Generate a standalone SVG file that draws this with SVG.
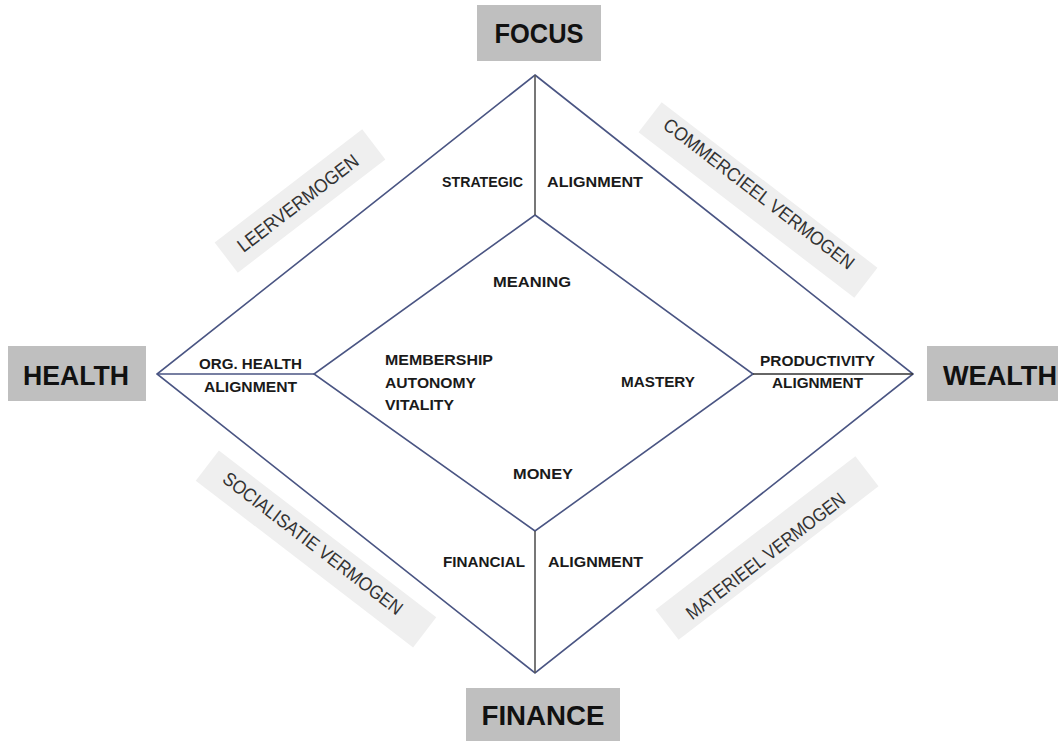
<svg xmlns="http://www.w3.org/2000/svg" width="1064" height="741" viewBox="0 0 1064 741">
<style>
.box{fill:#bfbfbf}
.big{font-family:"Liberation Sans",Arial,sans-serif;font-weight:bold;font-size:28px;fill:#111;text-anchor:middle}
.band{fill:#efefef}
.rot{font-family:"Liberation Sans",Arial,sans-serif;font-size:19px;fill:#333;text-anchor:middle}
.lbl{font-family:"Liberation Sans",Arial,sans-serif;font-weight:bold;font-size:15.5px;fill:#1a1a1a}
.ln{stroke:#4a5583;stroke-width:1.6;fill:none}
</style>
<rect width="1064" height="741" fill="#fff"/>

<g id="connectors">
  <polygon class="ln" points="535,75 913,374 535,673 157,374"/>
  <polygon class="ln" points="535,215 753,374 535,531 314,374"/>
  <line class="ln" x1="535" y1="75" x2="535" y2="215" style="stroke:#555"/>
  <line class="ln" x1="535" y1="531" x2="535" y2="673" style="stroke:#555"/>
  <line class="ln" x1="157" y1="374" x2="314" y2="374"/>
  <line class="ln" x1="753" y1="374" x2="913" y2="374" style="stroke:#333"/>
</g>

<g id="focus">
  <rect class="box" x="477" y="5" width="124" height="56"/>
  <text class="big" x="539" y="43" textLength="89" lengthAdjust="spacingAndGlyphs">FOCUS</text>
</g>
<g id="health">
  <rect class="box" x="8" y="346" width="138" height="55"/>
  <text class="big" x="76" y="385" textLength="106" lengthAdjust="spacingAndGlyphs">HEALTH</text>
</g>
<g id="wealth">
  <rect class="box" x="927" y="346" width="131" height="55"/>
  <text class="big" x="1000" y="385" textLength="114" lengthAdjust="spacingAndGlyphs">WEALTH</text>
</g>
<g id="finance">
  <rect class="box" x="466" y="688" width="154" height="53"/>
  <text class="big" x="543" y="725" textLength="123" lengthAdjust="spacingAndGlyphs">FINANCE</text>
</g>

<g id="leervermogen" transform="translate(300,201) rotate(-37.5)">
  <rect class="band" x="-93" y="-19" width="186" height="38"/>
  <text class="rot" x="-3" y="7" textLength="147" lengthAdjust="spacingAndGlyphs">LEERVERMOGEN</text>
</g>
<g id="commercieel" transform="translate(758,200) rotate(37.5)">
  <rect class="band" x="-136" y="-19" width="272" height="38"/>
  <text class="rot" x="-3" y="1" textLength="235" lengthAdjust="spacingAndGlyphs">COMMERCIEEL VERMOGEN</text>
</g>
<g id="socialisatie" transform="translate(316,549) rotate(37.5)">
  <rect class="band" x="-137" y="-19" width="274" height="38"/>
  <text class="rot" x="-6" y="4" textLength="221" lengthAdjust="spacingAndGlyphs">SOCIALISATIE VERMOGEN</text>
</g>
<g id="materieel" transform="translate(767,548) rotate(-37.5)">
  <rect class="band" x="-126" y="-19" width="252" height="38"/>
  <text class="rot" x="-6" y="12" textLength="195" lengthAdjust="spacingAndGlyphs">MATERIEEL VERMOGEN</text>
</g>

<g id="strategic-alignment">
  <text class="lbl" x="442" y="187" textLength="81" lengthAdjust="spacingAndGlyphs">STRATEGIC</text>
  <text class="lbl" x="547" y="187" textLength="96" lengthAdjust="spacingAndGlyphs">ALIGNMENT</text>
</g>
<g id="financial-alignment">
  <text class="lbl" x="443" y="567" textLength="82" lengthAdjust="spacingAndGlyphs">FINANCIAL</text>
  <text class="lbl" x="548" y="567" textLength="95" lengthAdjust="spacingAndGlyphs">ALIGNMENT</text>
</g>
<g id="org-health-alignment">
  <text class="lbl" x="199" y="369" textLength="103" lengthAdjust="spacingAndGlyphs">ORG. HEALTH</text>
  <text class="lbl" x="204" y="392" textLength="93" lengthAdjust="spacingAndGlyphs">ALIGNMENT</text>
</g>
<g id="productivity-alignment">
  <text class="lbl" x="760" y="366" textLength="115" lengthAdjust="spacingAndGlyphs">PRODUCTIVITY</text>
  <text class="lbl" x="772" y="388" textLength="91" lengthAdjust="spacingAndGlyphs">ALIGNMENT</text>
</g>
<g id="meaning">
  <text class="lbl" x="493" y="287" textLength="78" lengthAdjust="spacingAndGlyphs">MEANING</text>
</g>
<g id="money">
  <text class="lbl" x="513" y="479" textLength="60" lengthAdjust="spacingAndGlyphs">MONEY</text>
</g>
<g id="mastery">
  <text class="lbl" x="621" y="387" textLength="74" lengthAdjust="spacingAndGlyphs">MASTERY</text>
</g>
<g id="membership">
  <text class="lbl" x="385" y="365" textLength="108" lengthAdjust="spacingAndGlyphs">MEMBERSHIP</text>
  <text class="lbl" x="385" y="388" textLength="91" lengthAdjust="spacingAndGlyphs">AUTONOMY</text>
  <text class="lbl" x="385" y="410" textLength="69" lengthAdjust="spacingAndGlyphs">VITALITY</text>
</g>
</svg>
